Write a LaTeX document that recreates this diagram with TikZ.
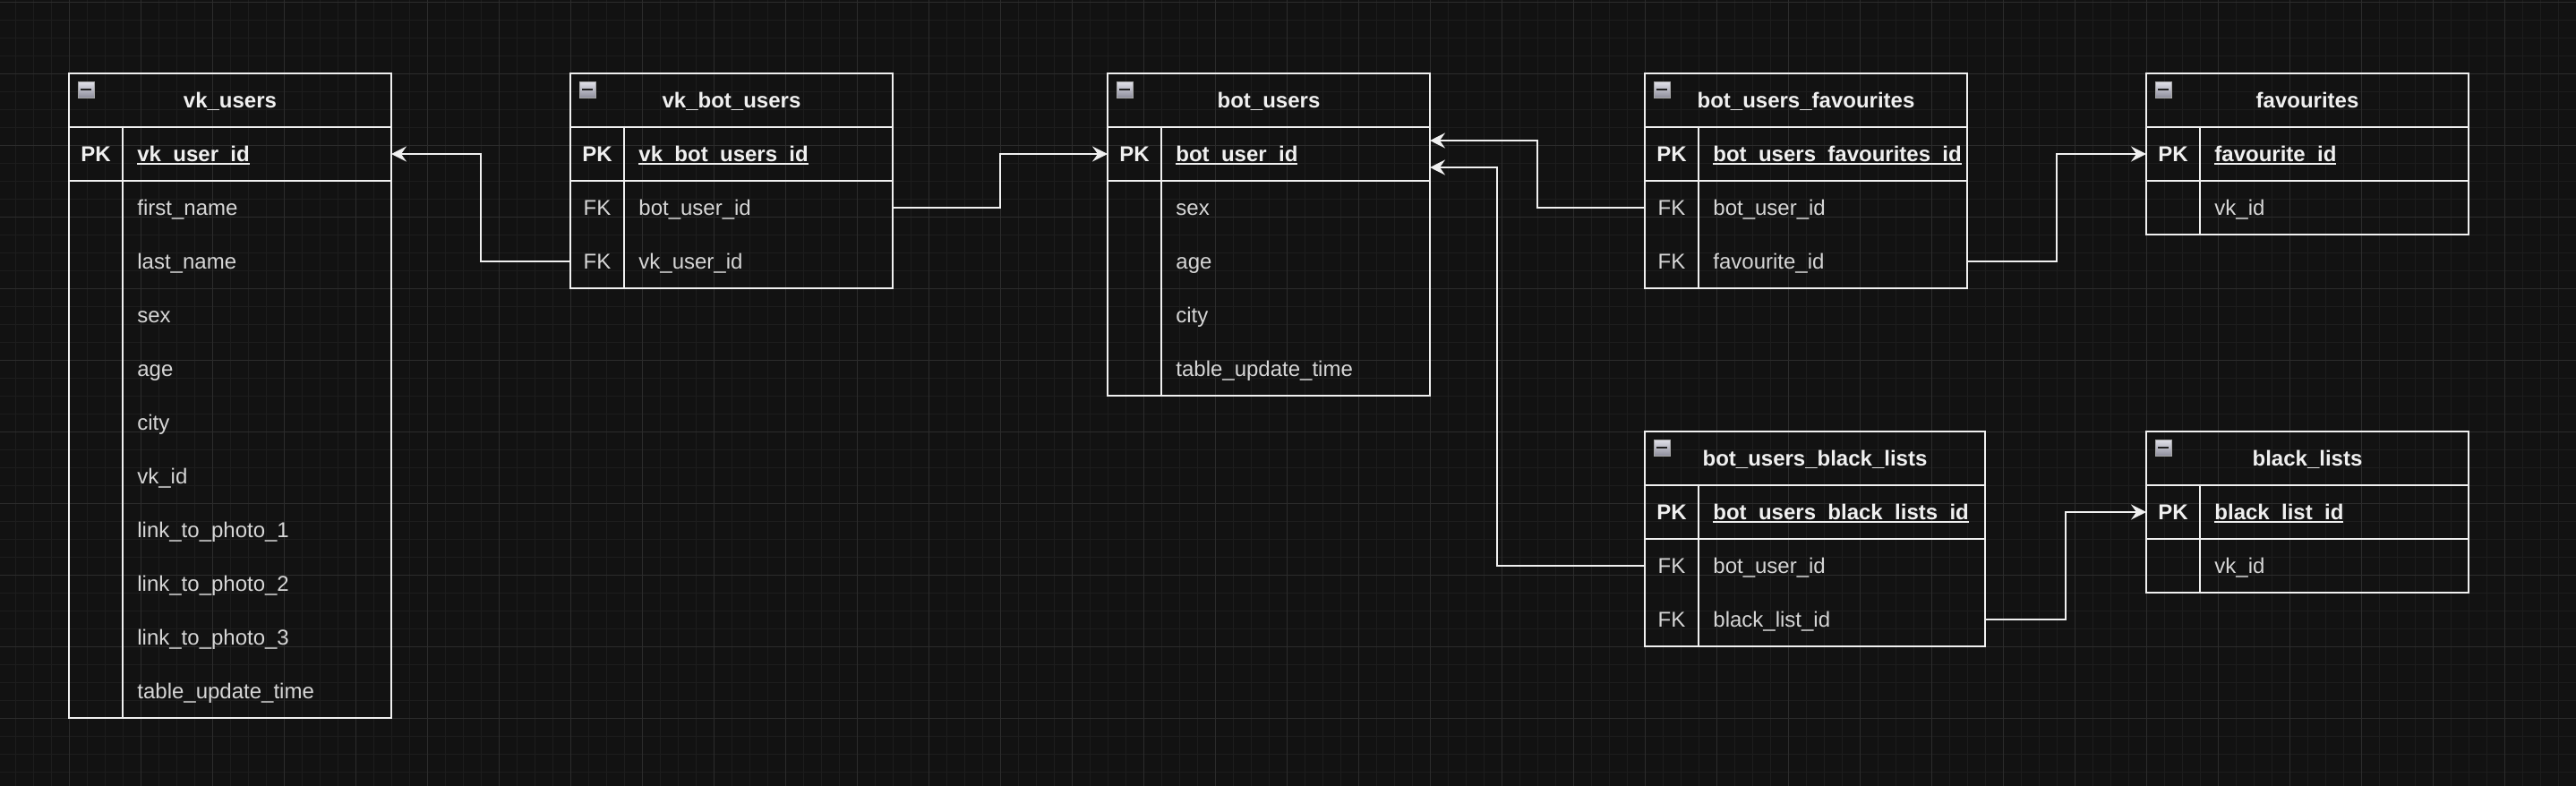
\documentclass[tikz,border=0pt]{standalone}
\usepackage{fontspec}
\setmainfont{Liberation Sans}
\usetikzlibrary{arrows.meta}
\definecolor{bgcol}{HTML}{121212}
\definecolor{minorcol}{HTML}{1D1D1D}
\definecolor{majorcol}{HTML}{2C2C2C}
\definecolor{linecol}{HTML}{F0F0F0}
\definecolor{titlecol}{HTML}{F0F0F0}
\definecolor{fieldcol}{HTML}{D6D6D6}
\definecolor{iconlight}{HTML}{E2E2EA}
\definecolor{icondark}{HTML}{8E8E9C}
\definecolor{minuscol}{HTML}{202020}
\tikzset{%
  tabletitle/.style={draw=linecol, line width=1pt, anchor=north west, minimum height=30pt,
    inner sep=0pt, outer sep=0pt, text height=9pt, text depth=1pt, text=titlecol,
    font=\fontsize{12pt}{14pt}\selectfont\bfseries},% table name
  tablerow/.style={anchor=north west, minimum height=30pt, inner sep=0pt, outer sep=0pt},% one row
  keytext/.style={anchor=base, inner sep=0pt, text=fieldcol, font=\fontsize{12pt}{14pt}\selectfont},% PK / FK
  fieldtext/.style={keytext, anchor=base west},% column name
  frame/.style={draw=linecol, line width=1pt},% table borders
  collapse/.style={draw=gray!70, line width=0.4pt, top color=iconlight, bottom color=icondark,
    minimum size=9pt, inner sep=0pt,
    path picture={\draw[draw=minuscol, line width=1.2pt]
      ([xshift=-3pt]path picture bounding box.center) -- ([xshift=3pt]path picture bounding box.center);}},% minus box
  fk/.style={draw=linecol, line width=1pt, -{Stealth[length=8.5pt, width=8.5pt, inset=3pt]}},% foreign key link
  minorgrid/.style={draw=minorcol, line width=0.5pt, step=10pt},
  majorgrid/.style={draw=majorcol, line width=0.5pt, step=40pt}
}
\newcommand*{\pkmark}{\textbf{\textcolor{titlecol}{PK}}}
\newcommand*{\pkname}[1]{\textbf{\color{titlecol}\setbox0\hbox{#1}%
  \rlap{\vrule height -1pt depth 2pt width \wd0}\box0}}
% #1 name, #2 top left corner, #3 width, #4 title, #5 rows key/field
\newcommand*{\dbtable}[5]{%
  \node[tabletitle, minimum width=#3] (#1) at (#2) {#4};
  \node[collapse] at ([shift={(9.5pt,-9pt)}]#1.north west) {};
  \foreach \k/\f [count=\i] in {#5} {
    \node[tablerow, minimum width=#3] (#1-\i) at ([yshift=-30pt*(\i-1)]#1.south west) {};
    \node[keytext] at ([shift={(15pt,-4pt)}]#1-\i.west) {\k};
    \node[fieldtext] at ([shift={(38pt,-4pt)}]#1-\i.west) {\f};
    \xdef\lastrow{\i}
  }
  \draw[frame] (#1.north west) rectangle (#1-\lastrow.south east);
  \draw[frame] (#1-1.north west) -- (#1-1.north east) (#1-1.south west) -- (#1-1.south east);
  \draw[frame] ([xshift=30pt]#1-1.north west) -- ([xshift=30pt]#1-\lastrow.south west);
}

\begin{document}
\begin{tikzpicture}
  \useasboundingbox (0,0) rectangle (1438.5pt,-439pt);
  % Dark canvas with grid:
  \begin{scope}
    \clip (0,0) rectangle (1438.5pt,-439pt);
    \fill[bgcol] (0,0) rectangle (1438.5pt,-439pt);
    \draw[minorgrid, shift={(-1.5pt,-1pt)}] (-10pt,10pt) grid (1450pt,-450pt);
    \draw[majorgrid, shift={(-1.5pt,-1pt)}] (-10pt,10pt) grid (1450pt,-450pt);
  \end{scope}
  % Place the tables:
  \dbtable{vkusers}{38.5pt,-41pt}{180pt}{vk\_users}{\pkmark/\pkname{vk\_user\_id}, /first\_name,
    /last\_name, /sex, /age, /city, /vk\_id, /link\_to\_photo\_1, /link\_to\_photo\_2,
    /link\_to\_photo\_3, /table\_update\_time}
  \dbtable{vkbotusers}{318.5pt,-41pt}{180pt}{vk\_bot\_users}{\pkmark/\pkname{vk\_bot\_users\_id},
    FK/bot\_user\_id, FK/vk\_user\_id}
  \dbtable{botusers}{618.5pt,-41pt}{180pt}{bot\_users}{\pkmark/\pkname{bot\_user\_id}, /sex, /age,
    /city, /table\_update\_time}
  \dbtable{botusersfav}{918.5pt,-41pt}{180pt}{bot\_users\_favourites}%
    {\pkmark/\pkname{bot\_users\_favourites\_id}, FK/bot\_user\_id, FK/favourite\_id}
  \dbtable{favourites}{1198.5pt,-41pt}{180pt}{favourites}{\pkmark/\pkname{favourite\_id}, /vk\_id}
  \dbtable{botusersbl}{918.5pt,-241pt}{190pt}{bot\_users\_black\_lists}%
    {\pkmark/\pkname{bot\_users\_black\_lists\_id}, FK/bot\_user\_id, FK/black\_list\_id}
  \dbtable{blacklists}{1198.5pt,-241pt}{180pt}{black\_lists}{\pkmark/\pkname{black\_list\_id}, /vk\_id}
  % Connect foreign keys to primary keys:
  \draw[fk] (vkbotusers-3.west) -- ++(-50pt,0) |- (vkusers-1.east);
  \draw[fk] (vkbotusers-2.east) -- ++(60pt,0) |- (botusers-1.west);
  \draw[fk] (botusersfav-2.west) -- ++(-60pt,0) |- ([yshift=7.5pt]botusers-1.east);
  \draw[fk] (botusersbl-2.west) -- ++(-82.5pt,0) |- ([yshift=-7.5pt]botusers-1.east);
  \draw[fk] (botusersfav-3.east) -- ++(50pt,0) |- (favourites-1.west);
  \draw[fk] (botusersbl-3.east) -- ++(45pt,0) |- (blacklists-1.west);
\end{tikzpicture}
\end{document}
